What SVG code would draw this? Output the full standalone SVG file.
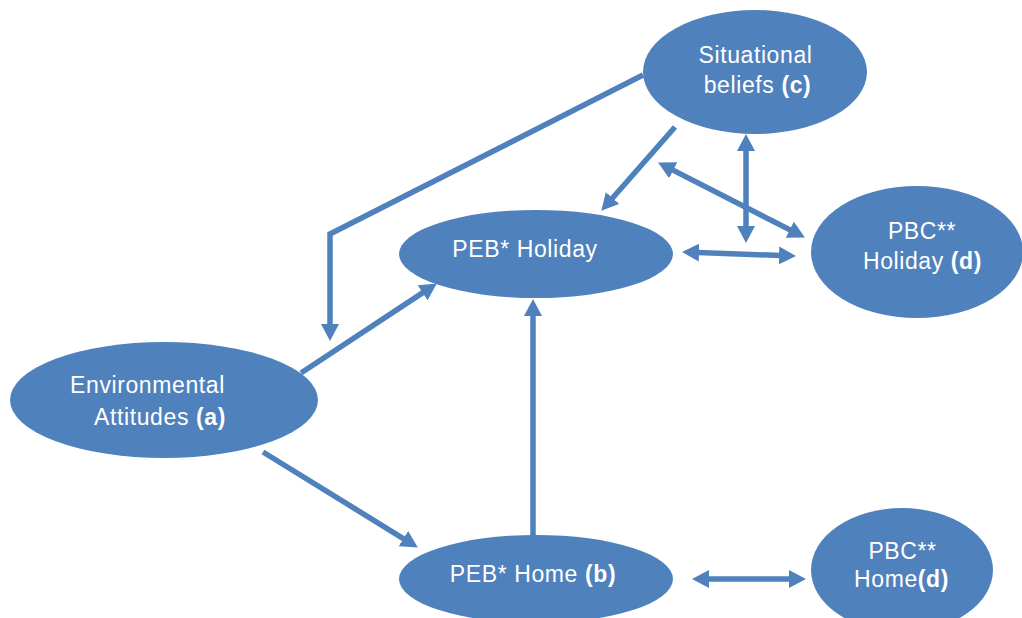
<svg xmlns="http://www.w3.org/2000/svg" width="1022" height="618" viewBox="0 0 1022 618">
<style>
.node{fill:#4F81BD;}
.t{fill:#FFFFFF;font-family:"Liberation Sans","DejaVu Sans",sans-serif;font-size:23px;text-anchor:middle;letter-spacing:0.6px;}
.b{font-weight:bold;}
.c{fill:none;stroke:#4F81BD;stroke-width:5.5;stroke-linecap:butt;stroke-linejoin:miter;}
</style>
<defs>
<marker id="ah" markerUnits="userSpaceOnUse" markerWidth="17" markerHeight="18" refX="8" refY="9" orient="auto-start-reverse" viewBox="0 0 17 18">
<path d="M0,0 L17,9 L0,18 z" fill="#4F81BD"/>
</marker>
</defs>
<rect width="1022" height="618" fill="#FFFFFF"/>
<g id="connectors">
<polyline class="c" points="643,75 330,234 330,332" marker-end="url(#ah)"/>
<line class="c" x1="675" y1="127" x2="607.3" y2="204" marker-end="url(#ah)"/>
<line class="c" x1="301" y1="373" x2="429.3" y2="288.4" marker-end="url(#ah)"/>
<line class="c" x1="263" y1="452" x2="410.2" y2="542.8" marker-end="url(#ah)"/>
<line class="c" x1="533" y1="537" x2="533" y2="308" marker-end="url(#ah)"/>
<line class="c" x1="746" y1="143" x2="746" y2="234" marker-start="url(#ah)" marker-end="url(#ah)"/>
<line class="c" x1="666.1" y1="166.6" x2="796.9" y2="233.4" marker-start="url(#ah)" marker-end="url(#ah)"/>
<line class="c" x1="691" y1="252.3" x2="787" y2="255.7" marker-start="url(#ah)" marker-end="url(#ah)"/>
<line class="c" x1="701" y1="579" x2="797" y2="579" marker-start="url(#ah)" marker-end="url(#ah)"/>
</g>
<g id="situational">
<ellipse class="node" cx="755" cy="72" rx="112" ry="62"/>
<text class="t" x="755.5" y="63">Situational</text>
<text class="t" x="757.5" y="93">beliefs <tspan class="b">(c)</tspan></text>
</g>
<g id="peb-holiday">
<ellipse class="node" cx="536" cy="254" rx="137" ry="44"/>
<text class="t" x="525" y="257">PEB* Holiday</text>
</g>
<g id="pbc-holiday">
<ellipse class="node" cx="917" cy="252" rx="106" ry="66"/>
<text class="t" x="922" y="239">PBC**</text>
<text class="t" x="922.5" y="269">Holiday <tspan class="b">(d)</tspan></text>
</g>
<g id="environmental">
<ellipse class="node" cx="164" cy="400" rx="154" ry="58"/>
<text class="t" x="147.5" y="393">Environmental</text>
<text class="t" x="160" y="425">Attitudes <tspan class="b">(a)</tspan></text>
</g>
<g id="peb-home">
<ellipse class="node" cx="536" cy="579" rx="137" ry="44"/>
<text class="t" x="533" y="582">PEB* Home <tspan class="b">(b)</tspan></text>
</g>
<g id="pbc-home">
<ellipse class="node" cx="902" cy="570" rx="91" ry="62"/>
<text class="t" x="902.5" y="559">PBC**</text>
<text class="t" x="901.5" y="587">Home<tspan class="b">(d)</tspan></text>
</g>
</svg>
